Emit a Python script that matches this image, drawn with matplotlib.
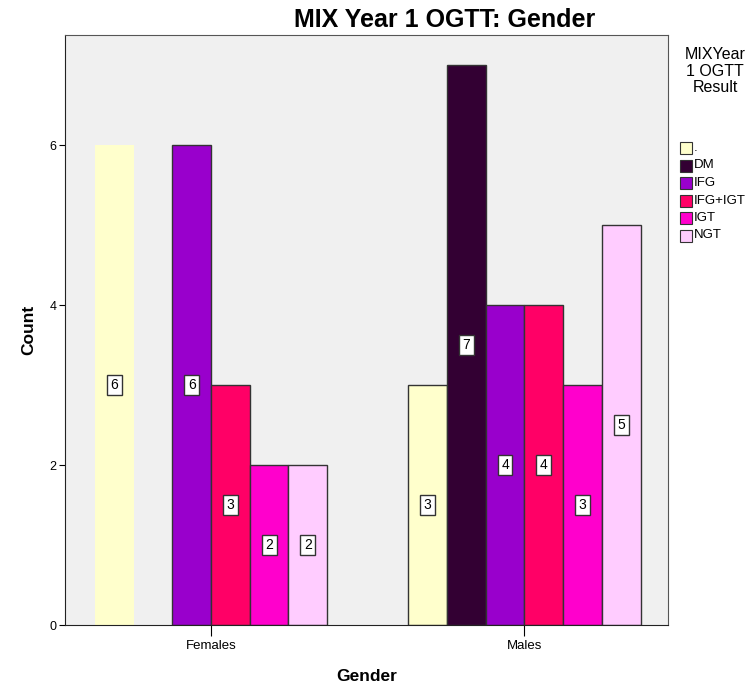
import matplotlib
matplotlib.use("Agg")
import matplotlib.pyplot as plt
from matplotlib.patches import Rectangle
import numpy as np

plt.rcParams['font.family'] = ['Liberation Sans', 'DejaVu Sans']

groups = ["Females", "Males"]
results = [".", "DM", "IFG", "IFG+IGT", "IGT", "NGT"]
females = [6, 0, 6, 3, 2, 2]
males = [3, 7, 4, 4, 3, 5]
colors = ["#FFFFCC", "#330033", "#9900CC", "#FF0066", "#FF00CC", "#FFCCFF"]

W, H = 752, 690
fig = plt.figure(figsize=(W/100, H/100), dpi=100)
ax = fig.add_axes([65/W, 1-625/H, (668-65)/W, (625-35)/H])
ax.set_facecolor("#F0F0F0")

w = 0.1235
xc = np.arange(len(groups))
counts = [females, males]
for gi, vals in enumerate(counts):
    for i, v in enumerate(vals):
        if v == 0:
            continue
        x = xc[gi] + (i - 2.5) * w
        ec = "none" if (gi == 0 and i == 0) else "#333333"
        ax.bar(x, v, width=w, color=colors[i], edgecolor=ec, linewidth=1.0, zorder=2)
        ax.text(x, v / 2, str(v), ha="center", va="center", fontsize=10, zorder=3,
                bbox=dict(boxstyle="square,pad=0.25", fc="white", ec="#333333", lw=1.0))

ax.set_xlim(-0.466, 1.458)
ax.set_ylim(0, 7.375)
ax.set_yticks([0, 2, 4, 6])
ax.set_yticklabels(["0", "2", "4", "6"], fontsize=9)
ax.set_xticks(xc)
ax.set_xticklabels(groups, fontsize=9.5)
ax.tick_params(axis="y", length=4, width=0.8, pad=2)
ax.tick_params(axis="x", length=8, width=0.8, pad=3)
for s in ["top", "right"]:
    ax.spines[s].set_color("#555555")
for s in ["left", "bottom"]:
    ax.spines[s].set_color("#222222")
ax.set_ylabel("Count", fontsize=12.5, fontweight="bold", labelpad=10)
ax.set_xlabel("Gender", fontsize=12.5, fontweight="bold", labelpad=12)

fig.text(445/W, 1-20/H, "MIX Year 1 OGTT: Gender", ha="center", va="center",
         fontsize=18, fontweight="bold")

# legend
fig.text(715/W, 1-71/H, "MIXYear\n1 OGTT\nResult", ha="center", va="center",
         fontsize=11.5, linespacing=1.1)
for i, (lab, col) in enumerate(zip(results, colors)):
    yc = 148 + i * 17.5
    fig.patches.append(Rectangle((680/W, 1-(yc+6)/H), 12/W, 12/H, transform=fig.transFigure,
                                 fc=col, ec="#333333", lw=0.8))
    fig.text(694/W, 1-yc/H, lab, ha="left", va="center", fontsize=9.5)

fig.savefig("out.png", dpi=100)
